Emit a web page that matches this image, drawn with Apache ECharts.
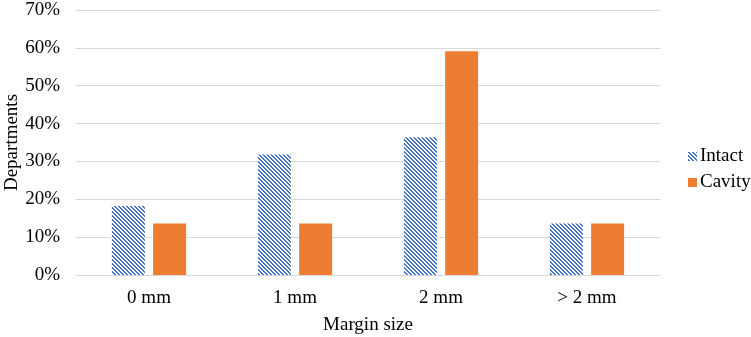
<!DOCTYPE html>
<html>
<head>
<meta charset="utf-8">
<script src="https://cdn.jsdelivr.net/npm/echarts@6/dist/echarts.min.js"></script>
<style>
  html, body { margin: 0; padding: 0; background: #fff; }
  #chart { width: 751px; height: 337px; }
</style>
</head>
<body>
<div id="chart"></div>
<script>
const categories = ['0 mm', '1 mm', '2 mm', '> 2 mm']
const intactValues = [18.2, 31.8, 36.4, 13.6]
const cavityValues = [13.6, 13.6, 59.1, 13.6]
const yTicks = [0, 10, 20, 30, 40, 50, 60, 70]

// diagonal hatch for the Intact bars
function makeHatch() {
  const size = 8
  const c = document.createElement('canvas')
  c.width = size
  c.height = size
  const ctx = c.getContext('2d')
  const img = ctx.createImageData(size, size)
  for (let y = 0; y < size; y++) {
    for (let x = 0; x < size; x++) {
      const i = (y * size + x) * 4
      const blue = ((x - y + size * 2) % 4) < 2
      img.data[i] = blue ? 68 : 255
      img.data[i + 1] = blue ? 114 : 255
      img.data[i + 2] = blue ? 196 : 255
      img.data[i + 3] = 255
    }
  }
  ctx.putImageData(img, 0, 0)
  return c
}

const font = '"Liberation Serif", "Times New Roman", serif'
const fs = 19
const chart = echarts.init(document.getElementById('chart'))

chart.setOption({
  animation: false,
  textStyle: { fontFamily: font },
  grid: { left: 76, right: 91, top: 10, bottom: 62, outerBoundsMode: 'none' },
  legend: {
    orient: 'vertical',
    left: 683,
    top: 142,
    itemWidth: 9,
    itemHeight: 9,
    itemGap: 7,
    icon: 'rect',
    textStyle: { fontFamily: font, fontSize: fs, color: '#000', padding: [0, 0, 0, -2] },
    data: ['Intact', 'Cavity'],
  },
  xAxis: {
    type: 'category',
    data: categories,
    name: 'Margin size',
    nameLocation: 'middle',
    nameGap: 41,
    nameMoveOverlap: false,
    nameTextStyle: { fontFamily: font, fontSize: fs, color: '#000' },
    axisLine: { lineStyle: { color: '#d9d9d9', width: 1 } },
    axisTick: { show: false },
    axisLabel: { fontFamily: font, fontSize: fs, color: '#000', margin: 14 },
  },
  yAxis: {
    type: 'value',
    min: yTicks[0],
    max: yTicks[yTicks.length - 1],
    interval: 10,
    name: 'Departments',
    nameLocation: 'middle',
    nameGap: 54,
    nameMoveOverlap: false,
    nameTextStyle: { fontFamily: font, fontSize: fs, color: '#000' },
    axisLine: { show: false },
    axisTick: { show: false },
    axisLabel: {
      fontFamily: font,
      fontSize: fs,
      color: '#000',
      margin: 16,
      formatter: (v) => v + '%',
    },
    splitLine: { lineStyle: { color: '#d9d9d9', width: 1 } },
  },
  series: [
    {
      name: 'Intact',
      type: 'bar',
      data: intactValues,
      barWidth: 33,
      barGap: '25%',
      itemStyle: { color: { image: makeHatch(), repeat: 'repeat' } },
    },
    {
      name: 'Cavity',
      type: 'bar',
      data: cavityValues,
      barWidth: 33,
      itemStyle: { color: '#ED7D31' },
    },
  ],
})
</script>
</body>
</html>
